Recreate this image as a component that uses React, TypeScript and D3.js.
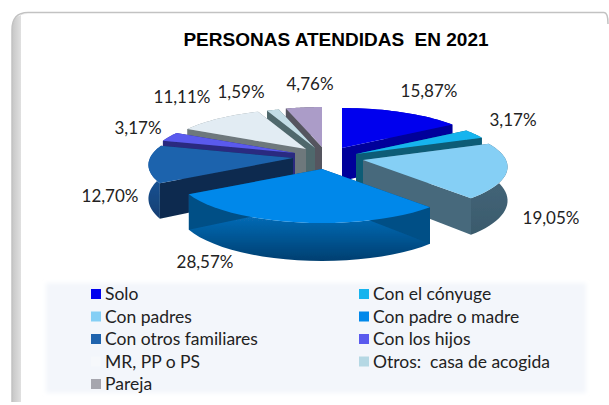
import React from "react";
import * as d3 from "d3";

const categories = [
  "Solo",
  "Con el cónyuge",
  "Con padres",
  "Con padre o madre",
  "Con otros familiares",
  "Con los hijos",
  "MR, PP o PS",
  "Otros:  casa de acogida",
  "Pareja",
];
const values = [15.87, 3.17, 19.05, 28.57, 12.7, 3.17, 11.11, 1.59, 4.76];
const valueLabels = ["15,87%", "3,17%", "19,05%", "28,57%", "12,70%", "3,17%", "11,11%", "1,59%", "4,76%"];

const topColors = ["#0000ee", "#16b4ee", "#85cff5", "#0088ea", "#1f63ad", "#5a5aee", "#e2ecf3", "#c3dde6", "#ab9cc8"];
const wallColors = ["#00009a", "#0a5c76", "#46697c", "#004f86", "#0c2c50", "#2a2a80", "#6e787c", "#4f686c", "#55555f"];
const edgeLight = ["#0000c0", "#0e7c9e", "#4a6c80", "#0a80d8", "#1f64b0", "#3a3aa8", "#8a9498", "#5f7a7e", "#66666f"];
const edgeDark = ["#00009a", "#0a5c76", "#3a5a6c", "#003f70", "#123e72", "#2a2a80", "#6e787c", "#4f686c", "#55555f"];
const legendColors = ["#0000ee", "#16b4ee", "#85cff5", "#0088ea", "#1f63ad", "#5a5aee", "#f6f8fb", "#b5d8e4", "#a6a6ae"];

// how far each slice is pulled out of the pie, px
const explode = [[20, -2], [34, 4], [41, 10], [0, 19], [-29, 8], [-27, 3], [-16, -1], [-7, -2], [0, -3]];
const labelSpots = [[429, 91], [513, 120], [551, 218], [205, 262], [110, 196], [138, 128], [182, 97], [241, 92], [310, 84]];
// painter's order, back to front
const drawOrder = [8, 7, 6, 5, 0, 1, 4, 2, 3];

const W = 609;
const H = 405;
const cx = 322;
const cy = 150;
const rx = 143;
const ry = 47;
const persp = 0.15;
const depth = 33;

const pie = d3.pie<number>().sort(null)(values);
const line = d3.line();

function project(a: number, off: number[], drop = 0): [number, number] {
  const dx = Math.sin(a);
  const dy = -Math.cos(a);
  const f = 1 + persp * dy;
  return [cx + off[0] + rx * dx * f, cy + off[1] + ry * dy * f + drop * f];
}

function apex(off: number[], drop = 0): [number, number] {
  return [cx + off[0], cy + off[1] + drop];
}

function arcPts(a0: number, a1: number, off: number[], drop = 0) {
  return d3.range(0, 25).map((i) => project(a0 + ((a1 - a0) * i) / 24, off, drop));
}

function Slice({ i }: { i: number }) {
  const { startAngle: a0, endAngle: a1 } = pie[i];
  const off = explode[i];
  const top = arcPts(a0, a1, off);
  const bottom = arcPts(a0, a1, off, depth).reverse();
  const wall = (a: number) =>
    line([apex(off), project(a, off), project(a, off, depth), apex(off, depth)]) + "Z";
  return (
    <g>
      <path d={line([...top, ...bottom]) + "Z"} fill={`url(#edge${i})`} />
      <path d={wall(a0)} fill={wallColors[i]} />
      <path d={wall(a1)} fill={wallColors[i]} />
      <path d={line([apex(off), ...top]) + "Z"} fill={topColors[i]} />
    </g>
  );
}

export default function App() {
  const legendRows = d3.range(0, 5);
  const rowY = d3.scalePoint<number>().domain(legendRows).range([294, 384]);
  const colX = [91, 359];

  return (
    <svg width={W} height={H} style={{ position: "absolute", left: 0, top: 0 }}>
      <defs>
        <filter id="soft" x="-5%" y="-5%" width="110%" height="110%">
          <feGaussianBlur stdDeviation="0.5" />
        </filter>
        <filter id="bandShade" x="-5%" y="-5%" width="110%" height="110%">
          <feGaussianBlur stdDeviation="2" />
        </filter>
        <linearGradient id="leftBand" x1="0" y1="0" x2="1" y2="0">
          <stop offset="0%" stopColor="#c6c6c6" />
          <stop offset="60%" stopColor="#e2e2e2" />
          <stop offset="100%" stopColor="#ffffff" />
        </linearGradient>
        {categories.map((_, i) => (
          <linearGradient key={i} id={`edge${i}`} x1="0" y1="0" x2="0" y2="1">
            <stop offset="0%" stopColor={edgeLight[i]} />
            <stop offset="100%" stopColor={edgeDark[i]} />
          </linearGradient>
        ))}
      </defs>
      <rect width={W} height={H} fill="#ffffff" />
      <path d="M12,402 V30 Q12,14 28,14 H21 V402 Z" fill="url(#leftBand)" />
      <path d="M12,402 V30 Q12,12.5 28,12.5 H604 Q608,12.5 608,24" fill="none" stroke="#c2c2c2" strokeWidth={1.5} />

      <text
        x={336}
        y={46}
        textAnchor="middle"
        fontFamily="Liberation Sans"
        fontWeight="bold"
        fontSize={19}
        fill="#000"
        style={{ whiteSpace: "pre" }}
      >
        PERSONAS ATENDIDAS  EN 2021
      </text>

      <g filter="url(#soft)">
        {drawOrder.map((i) => (
          <Slice key={i} i={i} />
        ))}
      </g>

      {valueLabels.map((t, i) => (
        <text key={i} x={labelSpots[i][0]} y={labelSpots[i][1]} dy="0.35em" textAnchor="middle" fontFamily="Lato" fontSize={17} fill="#222">
          {t}
        </text>
      ))}

      <rect x={46} y={283} width={540} height={110} fill="#f3f6fb" filter="url(#bandShade)" />
      {categories.map((c, i) => {
        const x = colX[i % 2];
        const y = rowY(Math.floor(i / 2)) as number;
        return (
          <g key={c}>
            <rect x={x} y={y - 5} width={10} height={10} fill={legendColors[i]} />
            <text x={x + 14} y={y} dy="0.35em" fontFamily="Lato" fontSize={17.5} fill="#222" style={{ whiteSpace: "pre" }}>
              {c}
            </text>
          </g>
        );
      })}
    </svg>
  );
}
